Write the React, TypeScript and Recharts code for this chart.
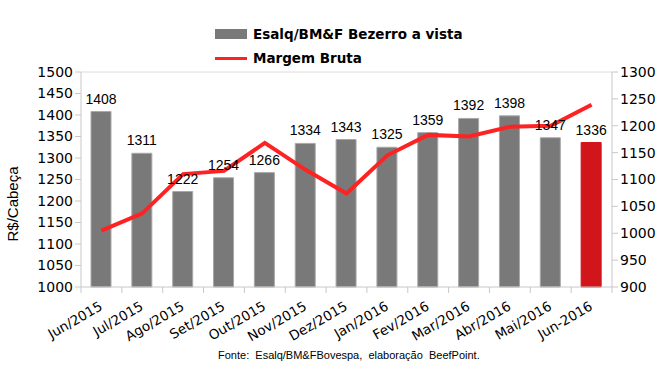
import React from 'react';
import {
  ComposedChart,
  Bar,
  Line,
  Cell,
  XAxis,
  YAxis,
  LabelList,
  ReferenceLine,
} from 'recharts';

const months = [
  'Jun/2015', 'Jul/2015', 'Ago/2015', 'Set/2015', 'Out/2015', 'Nov/2015', 'Dez/2015',
  'Jan/2016', 'Fev/2016', 'Mar/2016', 'Abr/2016', 'Mai/2016', 'Jun-2016',
];
const bezerro = [1408, 1311, 1222, 1254, 1266, 1334, 1343, 1325, 1359, 1392, 1398, 1347, 1336];
const margem = [1005, 1037, 1110, 1116, 1168, 1118, 1074, 1145, 1183, 1180, 1198, 1200, 1239];
const leftTicks = [1000, 1050, 1100, 1150, 1200, 1250, 1300, 1350, 1400, 1450, 1500];
const rightTicks = [900, 950, 1000, 1050, 1100, 1150, 1200, 1250, 1300];

const barName = 'Esalq/BM&F Bezerro a vista';
const lineName = 'Margem Bruta';
const yLabel = 'R$/Cabeça';
const source = 'Fonte:  Esalq/BM&FBovespa,  elaboração  BeefPoint.';

const data = months.map((m, i) => ({ month: m, bezerro: bezerro[i], margem: margem[i] }));

const W = 660;
const H = 373;
const BAND = (612 - 81) / months.length;

const XTick = (props: any) => {
  const { x, y, payload, index } = props;
  const last = index === months.length - 1;
  return (
    <g>
      <line x1={x - BAND / 2} x2={x - BAND / 2} y1={y - 8} y2={y - 2} stroke="#c8c8c8" />
      {last && <line x1={x + BAND / 2} x2={x + BAND / 2} y1={y - 8} y2={y - 2} stroke="#c8c8c8" />}
      <text
        x={x + 2}
        y={y + 14}
        textAnchor="end"
        transform={`rotate(-30, ${x + 2}, ${y + 14})`}
        fontFamily="DejaVu Sans"
        fontSize={13.5}
        fill="#000"
      >
        {payload.value}
      </text>
    </g>
  );
};

const App: React.FC = () => {
  return (
    <div style={{ position: 'absolute', left: 0, top: 0, width: W, height: H, background: '#fff' }}>
      <ComposedChart
        width={W}
        height={H}
        data={data}
        margin={{ top: 72, right: 0, bottom: 0, left: 0 }}
        barCategoryGap={0}
      >
        <XAxis
          dataKey="month"
          height={86}
          interval={0}
          tickLine={false}
          axisLine={{ stroke: '#c8c8c8' }}
          tick={<XTick />}
        />
        <YAxis
          yAxisId="left"
          width={81}
          domain={[1000, 1500]}
          ticks={leftTicks}
          interval={0}
          axisLine={{ stroke: '#c8c8c8' }}
          tickLine={{ stroke: '#c8c8c8' }}
          tickSize={6}
          tick={{ fill: '#000', fontSize: 14, fontFamily: 'DejaVu Sans' }}
        />
        <YAxis
          yAxisId="right"
          orientation="right"
          width={48}
          domain={[900, 1300]}
          ticks={rightTicks}
          interval={0}
          axisLine={{ stroke: '#c8c8c8' }}
          tickLine={{ stroke: '#c8c8c8' }}
          tickSize={6}
          tick={{ fill: '#000', fontSize: 14, fontFamily: 'DejaVu Sans' }}
        />
        <ReferenceLine yAxisId="left" y={1500} stroke="#dcdcdc" />
        <Bar
          yAxisId="left"
          dataKey="bezerro"
          name={barName}
          barSize={20}
          fill="#797979"
          stroke="#a8a8a8"
          strokeWidth={1}
          isAnimationActive={false}
        >
          {data.map((d, i) => (
            <Cell
              key={d.month}
              fill={i === data.length - 1 ? '#d0161b' : '#797979'}
              stroke={i === data.length - 1 ? '#d0161b' : '#a8a8a8'}
            />
          ))}
          <LabelList
            dataKey="bezerro"
            position="top"
            offset={8}
            style={{ fill: '#000', fontSize: 14, fontFamily: 'Liberation Sans' }}
          />
        </Bar>
        <Line
          yAxisId="right"
          dataKey="margem"
          name={lineName}
          type="linear"
          stroke="#ff2222"
          strokeWidth={4}
          dot={false}
          isAnimationActive={false}
        />
      </ComposedChart>

      <div style={{ position: 'absolute', left: 215, top: 24, fontFamily: 'DejaVu Sans', fontWeight: 'bold', fontSize: 13.5, color: '#000' }}>
        <div style={{ display: 'flex', alignItems: 'center', height: 20 }}>
          <span style={{ display: 'inline-block', width: 32, height: 10, background: '#797979', marginRight: 6 }} />
          {barName}
        </div>
        <div style={{ display: 'flex', alignItems: 'center', height: 20, marginTop: 4 }}>
          <span style={{ display: 'inline-block', width: 32, height: 3, background: '#ff2222', marginRight: 6 }} />
          {lineName}
        </div>
      </div>

      <div
        style={{
          position: 'absolute',
          left: 12,
          top: 204,
          transform: 'translate(-50%, -50%) rotate(-90deg)',
          fontFamily: 'Liberation Sans',
          fontSize: 15,
          whiteSpace: 'nowrap',
          color: '#000',
        }}
      >
        {yLabel}
      </div>

      <div
        style={{
          position: 'absolute',
          left: 218,
          top: 349,
          fontFamily: 'Liberation Sans',
          fontSize: 11,
          whiteSpace: 'pre',
          color: '#000',
        }}
      >
        {source}
      </div>
    </div>
  );
};

export default App;
